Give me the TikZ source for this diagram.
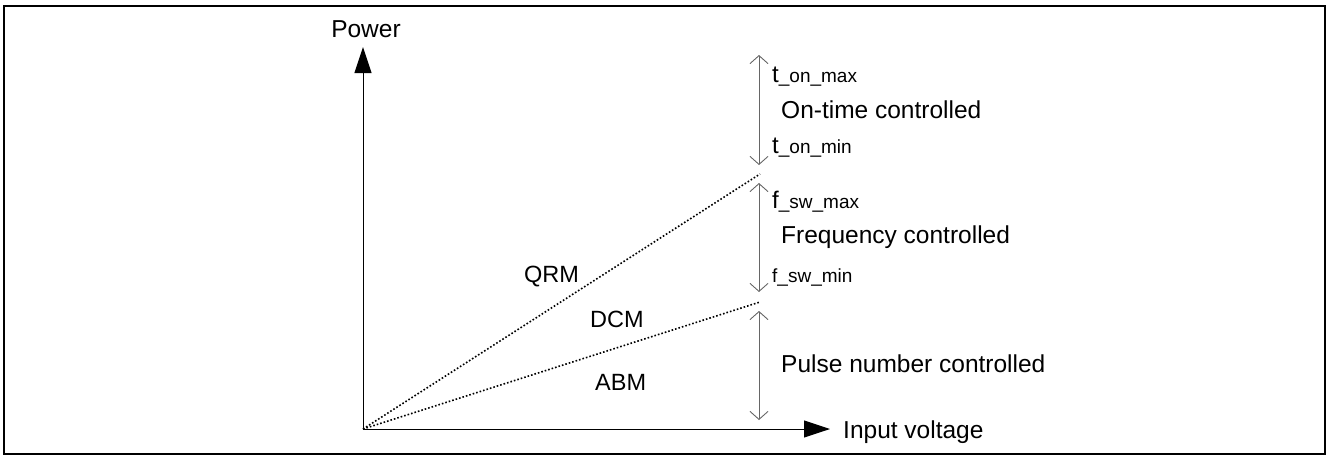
\documentclass[tikz,border=0pt]{standalone}
\usepackage{fontspec}
\setmainfont{Liberation Sans}
\usetikzlibrary{arrows.meta}
\begin{document}
\begin{tikzpicture}[x=1pt,y=-1pt,
  big/.style={font=\fontsize{24.5}{29}\selectfont, inner sep=0pt, anchor=base west},
  mode/.style={font=\fontsize{23.5}{27}\selectfont, inner sep=0pt, anchor=base west},
  lim/.style={font=\fontsize{19}{22}\selectfont, inner sep=0pt, anchor=base west},
  axisline/.style={line width=1pt, -{Triangle[length=26pt,width=17pt]}},
  rangearrow/.style={draw=black!60, line width=0.9pt, {Straight Barb[length=8pt,width=18pt]}-{Straight Barb[length=8pt,width=18pt]}},
  boundary/.style={dotted, line width=1.6pt}]
\useasboundingbox (0,0) rectangle (1328,456);
\draw[line width=2.2pt] (4,6) rectangle (1325,454);
% axes
\coordinate (O) at (363,429);
\coordinate (ytip) at (363,47);
\coordinate (xtip) at (830,429);
\draw[axisline] (O) -- (ytip);
\draw[axisline] (O) -- (xtip);
\node[font=\fontsize{24.5}{29}\selectfont, inner sep=0pt, anchor=base] (power) at (366,37) {Power};
\node[big] (input) at (843,438) {Input voltage};
% boundaries
\coordinate (q) at (760,174);
\coordinate (d) at (760,302);
\draw[boundary] (O) -- (q);
\draw[boundary] (O) -- (d);
% ranges
\coordinate (r1t) at (759,55);
\coordinate (r1b) at (759,165);
\coordinate (r2t) at (759,183);
\coordinate (r2b) at (759,292);
\coordinate (r3t) at (759,311);
\coordinate (r3b) at (759,420);
\draw[rangearrow] (r1t) -- (r1b);
\draw[rangearrow] (r2t) -- (r2b);
\draw[rangearrow] (r3t) -- (r3b);
% labels
\node[lim] (tonmax) at (772,82) {{\fontsize{24}{28}\selectfont t}\_on\_max};
\node[big] (ontime) at (781,118) {On-time controlled};
\node[lim] (tonmin) at (772,153) {{\fontsize{24}{28}\selectfont t}\_on\_min};
\node[lim] (fswmax) at (772,208) {{\fontsize{24}{28}\selectfont f}\_sw\_max};
\node[big] (freq) at (781,243) {Frequency controlled};
\node[lim] (fswmin) at (772,282) {f\_sw\_min};
\node[big] (pulse) at (781,372) {Pulse number controlled};
% modes
\node[mode] (qrm) at (524,282) {QRM};
\node[mode] (dcm) at (590,327) {DCM};
\node[mode] (abm) at (595,390) {ABM};
\end{tikzpicture}
\end{document}
